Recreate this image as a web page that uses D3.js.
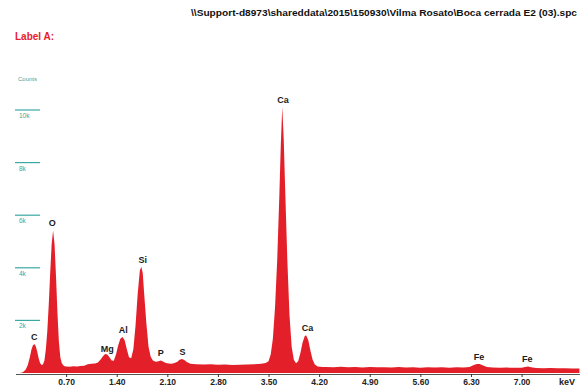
<!DOCTYPE html>
<html>
<head>
<meta charset="utf-8">
<script src="https://cdn.jsdelivr.net/npm/d3@7"></script>
<style>
  body { margin: 0; background: #fff; }
  text { font-family: "Liberation Sans", Arial, sans-serif; }
</style>
</head>
<body>
<svg id="chart" width="582" height="392"></svg>
<script>
// spectrum (keV, counts)
const energies = [
  0.06, 0.10, 0.14, 0.17, 0.20, 0.22, 0.24, 0.26, 0.28, 0.30, 0.32, 0.34, 0.36, 0.38,
  0.40, 0.42, 0.44, 0.46, 0.48, 0.50, 0.52, 0.54, 0.56, 0.58, 0.60, 0.62, 0.64, 0.66, 0.68,
  0.70, 0.75, 0.80, 0.85, 0.90, 0.95, 1.00, 1.05, 1.10, 1.14, 1.18, 1.21, 1.24, 1.27, 1.30,
  1.33, 1.36, 1.39, 1.42, 1.45, 1.48, 1.51, 1.54, 1.57, 1.60, 1.63, 1.66, 1.69, 1.72, 1.74,
  1.76, 1.78, 1.81, 1.84, 1.87, 1.90, 1.94, 1.98, 2.01, 2.04, 2.08, 2.12, 2.16, 2.20, 2.24,
  2.27, 2.30, 2.33, 2.37, 2.42, 2.50, 2.60, 2.70, 2.80, 2.90, 3.00, 3.10, 3.20, 3.30, 3.40,
  3.46, 3.50, 3.53, 3.56, 3.59, 3.62, 3.65, 3.67, 3.69, 3.71, 3.73, 3.76, 3.79, 3.82, 3.85,
  3.88, 3.91, 3.94, 3.97, 4.00, 4.02, 4.05, 4.08, 4.11, 4.14, 4.18, 4.25, 4.30, 4.40, 4.50,
  4.60, 4.70, 4.80, 4.90, 5.00, 5.10, 5.20, 5.30, 5.40, 5.50, 5.60, 5.70, 5.80, 5.90, 6.00,
  6.10, 6.20, 6.28, 6.34, 6.38, 6.42, 6.46, 6.52, 6.60, 6.70, 6.80, 6.90, 7.00, 7.05, 7.09,
  7.13, 7.20, 7.30, 7.40, 7.50, 7.60, 7.70, 7.80
];
const counts = [
  0, 30, 120, 300, 620, 880, 1050, 1100, 1020, 820, 560, 380, 300, 320,
  480, 900, 1600, 2600, 3800, 4900, 5420, 4900, 3700, 2300, 1200, 600, 380, 290, 260,
  250, 240, 260, 250, 270, 280, 330, 350, 360, 400, 520, 640, 720, 700, 600,
  480, 470, 700, 1050, 1300, 1370, 1250, 900, 600, 560, 900, 1800, 3000, 3900, 4040,
  3800, 3000, 1900, 1000, 620, 480, 430, 450, 480, 440, 380, 360, 350, 380, 430,
  500, 530, 500, 420, 350, 330, 320, 330, 310, 320, 300, 310, 320, 330, 350,
  380, 450, 700, 1300, 2500, 4300, 6800, 8700, 10110, 8900, 7000, 4300, 2200, 1000, 500,
  370, 450, 750, 1150, 1400, 1440, 1250, 850, 500, 320, 250, 230, 230, 215, 235,
  220, 225, 210, 230, 215, 220, 205, 225, 210, 215, 200, 220, 205, 215, 200,
  215, 210, 230, 300, 340, 340, 290, 230, 210, 200, 205, 195, 200, 230, 250,
  220, 190, 185, 190, 180, 185, 175, 170
];

const peakNames = ["C", "O", "Mg", "Al", "Si", "P", "S", "Ca", "Ca", "Fe", "Fe"];
const peakEnergies = [0.26, 0.51, 1.27, 1.49, 1.76, 2.01, 2.31, 3.70, 4.04, 6.41, 7.08];
const peakCounts = [1100, 5420, 640, 1370, 4040, 480, 530, 10110, 1440, 340, 250];

const countTicks = [2000, 4000, 6000, 8000, 10000];
const countTickLabels = ["2k", "4k", "6k", "8k", "10k"];
const energyTicks = [0.7, 1.4, 2.1, 2.8, 3.5, 4.2, 4.9, 5.6, 6.3, 7.0];

const title = "\\\\Support-d8973\\shareddata\\2015\\150930\\Vilma Rosato\\Boca cerrada E2 (03).spc";

const svg = d3.select("#chart");

const x = d3.scaleLinear().domain([0, 7.8]).range([15.5, 579.4]);
const y = d3.scaleLinear().domain([0, 10000]).range([373, 110]);

// header
svg.append("text")
  .attr("x", 577).attr("y", 16)
  .attr("text-anchor", "end")
  .attr("textLength", 386).attr("lengthAdjust", "spacingAndGlyphs")
  .style("font-size", "9.5px").style("font-weight", "bold").attr("fill", "#111")
  .text(title);

svg.append("text")
  .attr("x", 15).attr("y", 40)
  .style("font-size", "10px").style("font-weight", "bold").attr("fill", "#e8202a")
  .text("Label A:");

// counts axis (teal marks)
const teal = "#3aa8a3";
svg.append("text")
  .attr("x", 18).attr("y", 81)
  .style("font-size", "6px").attr("fill", teal)
  .text("Counts");

const yTicks = svg.append("g");
yTicks.selectAll("line").data(countTicks).enter().append("line")
  .attr("x1", 15).attr("x2", 40)
  .attr("y1", d => y(d)).attr("y2", d => y(d))
  .attr("stroke", teal).attr("stroke-width", 1.2);
yTicks.selectAll("text").data(countTicks).enter().append("text")
  .attr("x", 19).attr("y", d => y(d) + 8)
  .style("font-size", "6.5px").attr("fill", teal)
  .text((d, i) => countTickLabels[i]);

// spectrum
const area = d3.area()
  .x((d, i) => x(energies[i]))
  .y0(y(0))
  .y1(d => y(d));

svg.append("path")
  .datum(counts)
  .attr("d", area)
  .attr("fill", "#e3202a");

// energy axis
const xAxis = d3.axisBottom(x)
  .tickValues(energyTicks)
  .tickFormat(d3.format(".2f"))
  .tickSize(3)
  .tickSizeOuter(0);

const gx = svg.append("g")
  .attr("transform", "translate(0," + 374 + ")")
  .call(xAxis);
gx.select(".domain").attr("stroke", "#555").attr("stroke-width", 1.2);
gx.selectAll(".tick line").attr("stroke", "#333");
gx.selectAll(".tick text")
  .attr("dy", "0.55em")
  .style("font-size", "8.5px").style("font-weight", "bold")
  .style("font-family", "'Liberation Sans', Arial, sans-serif")
  .attr("fill", "#222");

svg.append("text")
  .attr("x", 567).attr("y", 385)
  .attr("text-anchor", "middle")
  .style("font-size", "9px").style("font-weight", "bold").attr("fill", "#222")
  .text("keV");

// peak labels
svg.append("g").selectAll("text").data(peakNames).enter().append("text")
  .attr("x", (d, i) => x(peakEnergies[i]))
  .attr("y", (d, i) => y(peakCounts[i]) - 4)
  .attr("text-anchor", "middle")
  .style("font-size", "9px").style("font-weight", "bold").attr("fill", "#1a1a1a")
  .text(d => d);
</script>
</body>
</html>
